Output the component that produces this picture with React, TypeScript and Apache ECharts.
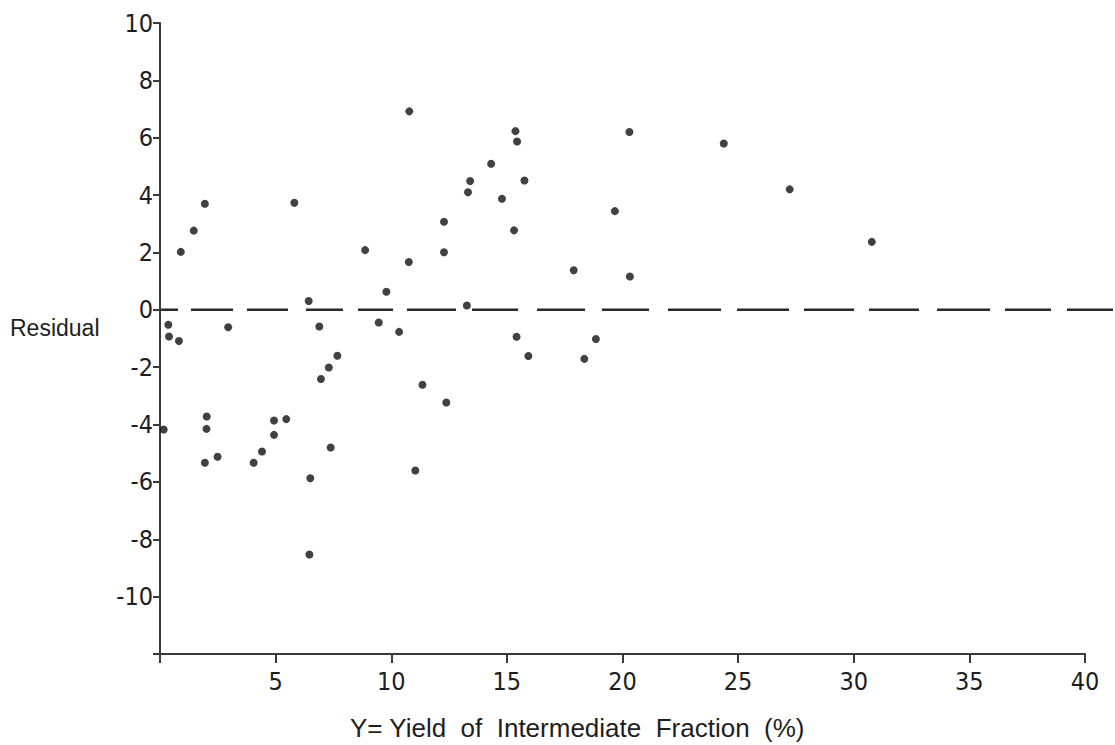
import React, { useEffect, useRef } from "react";
import * as echarts from "echarts";

// Y = yield of intermediate fraction (%)
const yieldPct = [
  0.16, 0.36, 0.39, 0.82, 0.9, 1.46, 1.94, 2.02, 2.01, 1.94, 2.49, 2.95,
  4.05, 4.41, 4.93, 4.93, 5.46, 5.81, 6.43, 6.89, 6.96, 7.3, 7.67, 7.38,
  6.5, 6.46, 8.87, 9.79, 9.46, 10.34, 10.76, 10.78, 11.35, 11.04, 12.28,
  12.28, 12.38, 13.27, 13.32, 13.41, 14.32, 14.79, 15.31, 15.37, 15.44,
  15.76, 15.42, 15.93, 17.89, 18.35, 18.85, 19.67, 20.3, 20.32, 24.38,
  27.23, 30.78,
];
const residual = [
  -4.17, -0.52, -0.93, -1.09, 2.02, 2.76, 3.7, -3.72, -4.15, -5.33, -5.12,
  -0.61, -5.33, -4.94, -4.36, -3.86, -3.81, 3.73, 0.31, -0.58, -2.41, -2.01,
  -1.6, -4.8, -5.87, -8.53, 2.08, 0.63, -0.44, -0.77, 1.67, 6.92, -2.61,
  -5.6, 3.07, 2.01, -3.23, 0.15, 4.1, 4.49, 5.09, 3.87, 2.77, 6.23, 5.87,
  4.51, -0.94, -1.61, 1.38, -1.71, -1.02, 3.44, 6.2, 1.16, 5.8, 4.2, 2.37,
];

const xAxisMin = 0;
const xAxisMax = 40;
const xAxisStep = 5;
const yAxisMin = -12;
const yAxisMax = 10;
const yAxisStep = 2;

const yLabel = "Residual";
const xLabel = "Y= Yield  of  Intermediate  Fraction  (%)";

const numFont = "'Liberation Sans Narrow', 'DejaVu Sans Condensed', 'Liberation Sans', sans-serif";
const textFont = "'Liberation Sans', Arial, sans-serif";
const ink = "#1e1e1e";
const axisInk = "#3a3a3a";

// hand-drawn dash pattern of the zero reference line
const zeroDash = [18, 13, 42, 14, 41, 18, 37, 15, 35, 14, 49, 16, 46, 19, 48, 17, 47, 19, 53, 16, 52, 15, 50, 15, 50, 18, 53, 15, 46, 16, 46, 10];

export default function App() {
  const ref = useRef<HTMLDivElement>(null);

  useEffect(() => {
    if (!ref.current) return;
    const chart = echarts.init(ref.current, undefined, { renderer: "svg" });
    const points = yieldPct.map((x, i) => [x, residual[i]]);

    chart.setOption({
      animation: false,
      backgroundColor: "#ffffff",
      grid: { left: 160, right: 30, top: 23, bottom: 91 },
      xAxis: {
        type: "value",
        min: xAxisMin,
        max: xAxisMax,
        interval: xAxisStep,
        splitLine: { show: false },
        axisLine: { show: true, onZero: false, lineStyle: { color: axisInk, width: 2 } },
        axisTick: { show: true, length: 9, lineStyle: { color: axisInk, width: 2 } },
        axisLabel: {
          margin: 15,
          fontFamily: numFont,
          fontSize: 25,
          color: ink,
          formatter: (v: number) => (v === 0 ? "" : String(v)),
        },
      },
      yAxis: {
        type: "value",
        min: yAxisMin,
        max: yAxisMax,
        interval: yAxisStep,
        splitLine: { show: false },
        axisLine: { show: true, onZero: false, lineStyle: { color: axisInk, width: 2 } },
        axisTick: { show: true, length: 7, lineStyle: { color: axisInk, width: 2 } },
        axisLabel: {
          margin: 7,
          fontFamily: numFont,
          fontSize: 25,
          color: ink,
          formatter: (v: number) => (v === yAxisMin ? "" : String(v)),
        },
      },
      series: [
        {
          type: "scatter",
          data: points,
          symbol: "circle",
          symbolSize: 8,
          itemStyle: { color: "#111111" },
          silent: true,
        },
      ],
    });

    const zero = chart.convertToPixel({ gridIndex: 0 }, [0, 0]) as number[];
    chart.setOption({
      graphic: [
        {
          type: "line",
          shape: { x1: zero[0], y1: zero[1], x2: 1113, y2: zero[1] },
          style: { stroke: "#2a2a2a", lineWidth: 2.5, lineDash: zeroDash },
          silent: true,
        },
        {
          type: "text",
          x: 10,
          y: 328,
          style: {
            text: yLabel,
            fontFamily: textFont,
            fontSize: 23,
            fill: ink,
            textAlign: "left",
            textVerticalAlign: "middle",
          },
        },
        {
          type: "text",
          x: 350,
          y: 728,
          style: {
            text: xLabel,
            fontFamily: textFont,
            fontSize: 26,
            fill: ink,
            textAlign: "left",
            textVerticalAlign: "middle",
          },
        },
      ],
    });

    return () => chart.dispose();
  }, []);

  return (
    <div
      ref={ref}
      style={{ position: "absolute", left: 0, top: 0, width: 1115, height: 745 }}
    />
  );
}
